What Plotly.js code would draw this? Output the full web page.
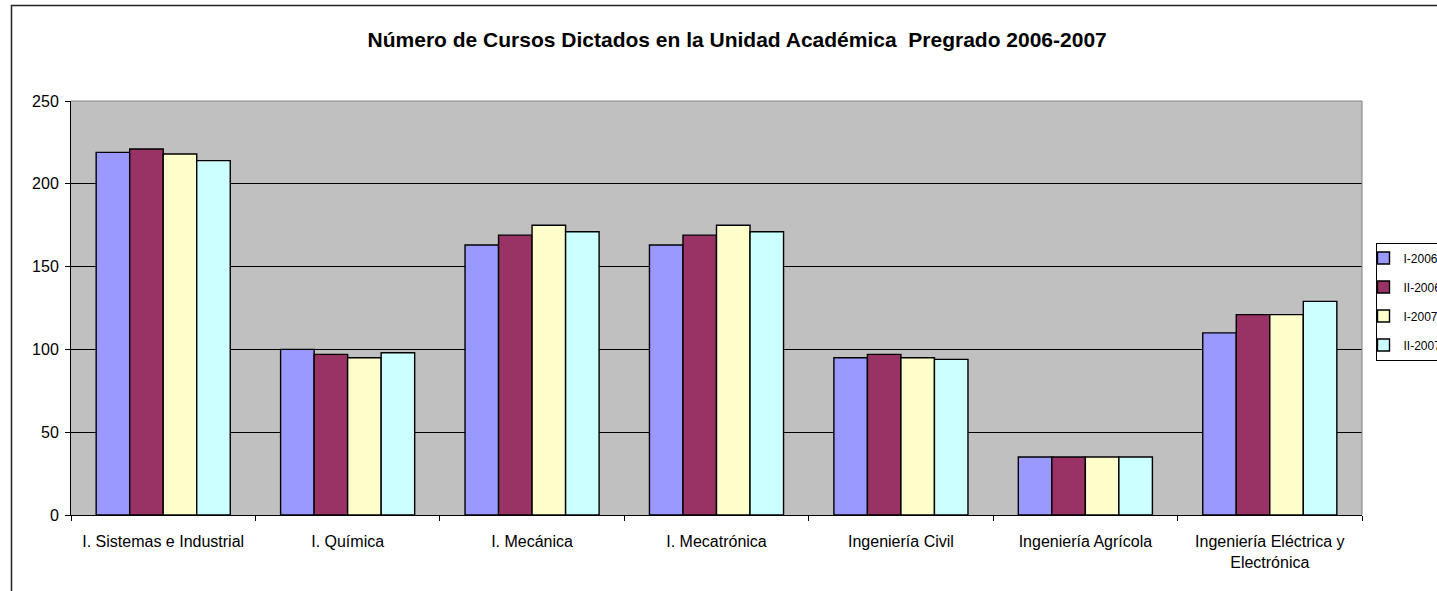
<!DOCTYPE html>
<html>
<head>
<meta charset="utf-8">
<script src="https://cdn.plot.ly/plotly-3.0.1.min.js"></script>
<style>html,body{margin:0;padding:0;background:#fff;}#chart{width:1437px;height:591px;}</style>
</head>
<body>
<div id="chart"></div>
<script>
const categories = [
  "I. Sistemas e Industrial",
  "I. Química",
  "I. Mecánica",
  "I. Mecatrónica",
  "Ingeniería Civil",
  "Ingeniería Agrícola",
  "Ingeniería Eléctrica y<br>Electrónica"
];
const seriesNames = ["I-2006", "II-2006", "I-2007", "II-2007"];
const i2006  = [219, 100, 163, 163, 95, 35, 110];
const ii2006 = [221,  97, 169, 169, 97, 35, 121];
const i2007  = [218,  95, 175, 175, 95, 35, 121];
const ii2007 = [214,  98, 171, 171, 94, 35, 129];
const yTicks = [0, 50, 100, 150, 200, 250];

const colors = ["#9999FF", "#993366", "#FFFFCC", "#CCFFFF"];
const values = [i2006, ii2006, i2007, ii2007];

const FONT = "Liberation Sans, Arial, sans-serif";

const traces = values.map((v, i) => ({
  type: "bar",
  name: seriesNames[i],
  legendgroup: "g" + i,
  x: categories,
  y: v,
  marker: {color: colors[i], line: {color: "#000", width: 1.4}},
  hoverinfo: "x+y+name"
}));

const layout = {
  width: 1437,
  height: 591,
  margin: {l: 71, r: 75, t: 101, b: 76, autoexpand: false},
  paper_bgcolor: "#ffffff",
  plot_bgcolor: "#C0C0C0",
  font: {family: FONT, size: 16, color: "#000"},
  title: {
    text: "<b>Número de Cursos Dictados en la Unidad Académica  Pregrado 2006-2007</b>",
    font: {family: FONT, size: 21, color: "#000"},
    x: 0.513, xanchor: "center", xref: "container",
    y: 1 - 40 / 591, yanchor: "middle", yref: "container"
  },
  barmode: "group",
  bargap: 0.273,
  bargroupgap: 0,
  xaxis: {
    type: "category",
    tickson: "boundaries",
    ticks: "outside", ticklen: 5, tickcolor: "#000", tickwidth: 1,
    showline: true, linecolor: "#000", linewidth: 1,
    showgrid: false,
    tickfont: {family: FONT, size: 16, color: "#000"},
    ticklabelstandoff: 12
  },
  yaxis: {
    range: [0, 250],
    tickvals: yTicks,
    ticktext: yTicks.map(String),
    ticks: "outside", ticklen: 5, tickcolor: "#000", tickwidth: 1,
    showline: true, linecolor: "#000", linewidth: 1,
    showgrid: true, gridcolor: "#000", gridwidth: 1,
    zeroline: false,
    tickfont: {family: FONT, size: 16, color: "#000"},
    ticklabelstandoff: 3
  },
  legend: {
    x: (1375.5 - 71) / 1291, xanchor: "left",
    y: (515 - 242.5) / 414, yanchor: "top",
    bgcolor: "#ffffff",
    bordercolor: "#000", borderwidth: 1,
    font: {family: FONT, size: 12, color: "#000"},
    traceorder: "grouped",
    tracegroupgap: 10,
    indentation: -13
  },
  shapes: [
    {type: "line", xref: "paper", yref: "paper", x0: 0, x1: 1, y0: 1, y1: 1,
     line: {color: "#808080", width: 1}, layer: "above"},
    {type: "line", xref: "paper", yref: "paper", x0: 1, x1: 1, y0: 0, y1: 1,
     line: {color: "#808080", width: 1}, layer: "above"},
    {type: "rect", xref: "paper", yref: "paper",
     x0: (11.5 - 71) / 1291, x1: 1.6, y0: -0.5, y1: (515 - 5.5) / 414,
     line: {color: "#222", width: 1.5}, fillcolor: "rgba(0,0,0,0)", layer: "above"}
  ]
};

Plotly.newPlot("chart", traces, layout, {displayModeBar: false, responsive: false});
</script>
</body>
</html>
